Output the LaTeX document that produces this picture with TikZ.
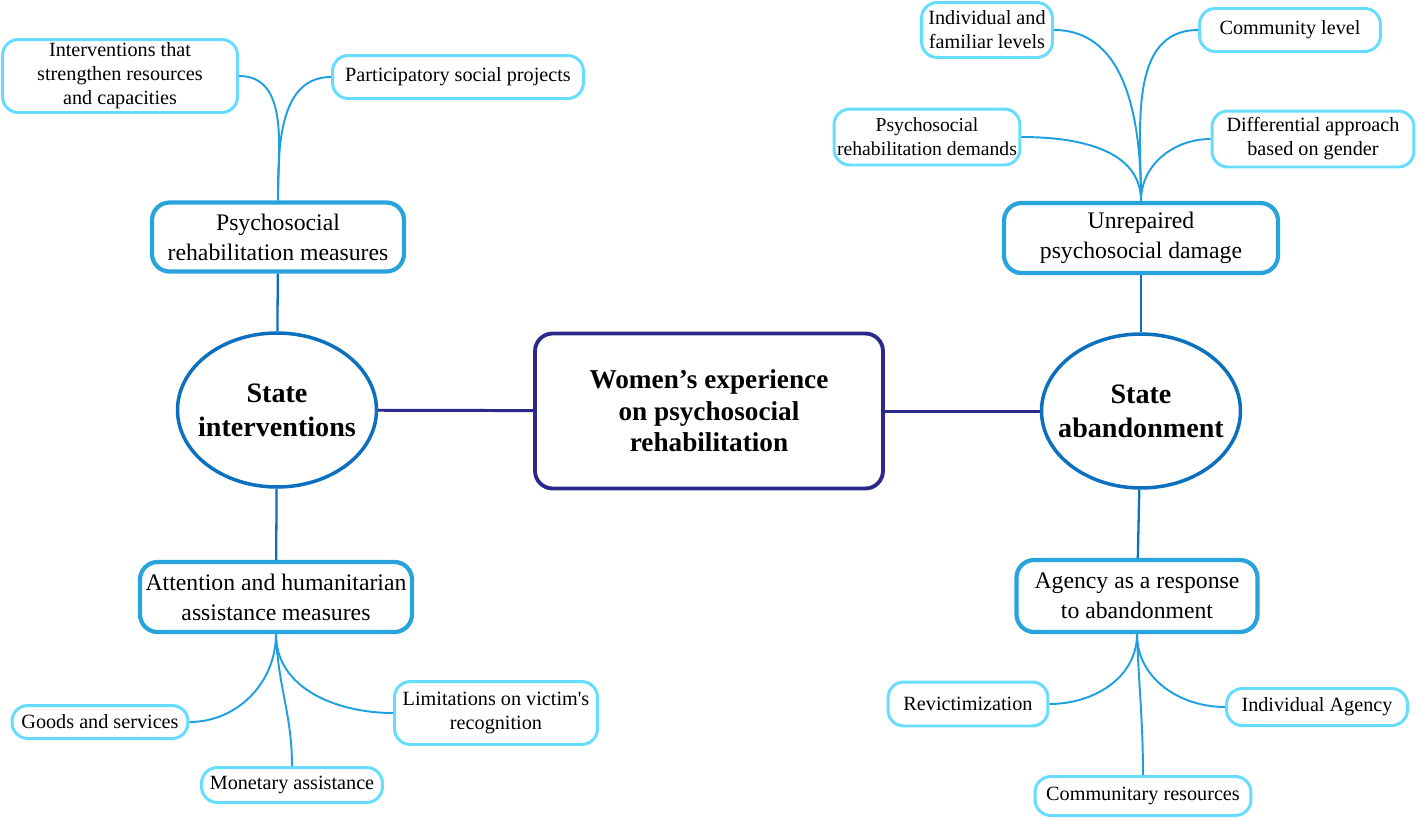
\documentclass[tikz,border=0pt]{standalone}
\usepackage{fontspec}
\setmainfont{Liberation Serif}
\usetikzlibrary{shapes.geometric}
\definecolor{navyline}{RGB}{43,42,140}
\definecolor{ellblue}{RGB}{12,112,190}
\definecolor{midblue}{RGB}{41,163,220}
\definecolor{leafblue}{RGB}{102,221,255}
\definecolor{twigblue}{RGB}{30,160,224}

\begin{document}
\begin{tikzpicture}[x=0.02cm,y=-0.02cm,
    leafbox/.style={draw=leafblue,line width=1.7pt,rounded corners=9pt,align=center,
        inner sep=0pt,font=\fontsize{11.5}{13.6}\selectfont},
    midbox/.style={draw=midblue,line width=2.4pt,rounded corners=10pt,align=center,
        inner sep=0pt,font=\fontsize{13.5}{17}\selectfont}]
            \useasboundingbox (0,0) rectangle (1418,819);
            % core of the map
            \node[draw=navyline,line width=2.2pt,rounded corners=10pt,align=center,
                minimum width=6.96cm,minimum height=3.1cm,
                font=\fontsize{15.5}{18}\selectfont\bfseries] (core) at (709,411)
                {Women’s experience\\on psychosocial\\rehabilitation};
            \begin{scope}[every node/.style={ellipse,draw=ellblue,line width=2pt,inner sep=0pt,
                    minimum width=3.98cm,minimum height=3.08cm},
                    every label/.style={shape=rectangle,draw=none,minimum width=0pt,minimum height=0pt,
                    align=center,font=\fontsize{16}{19.5}\selectfont\bfseries}]
                \node[label=center:{State\\interventions}] (interv) at (277,410) {};
                \node[label=center:{State\\abandonment}] (aband) at (1141,411) {};
            \end{scope}
            \begin{scope}[every node/.style={midbox}]
                \node[minimum width=5.04cm,minimum height=1.38cm] (measures) at (278,237) {Psychosocial\\rehabilitation measures};
                \node[minimum width=5.44cm,minimum height=1.4cm] (attention) at (276,597) {Attention and humanitarian\\assistance measures};
                \node[minimum width=5.48cm,minimum height=1.4cm] (damage) at (1141,238) {Unrepaired\\psychosocial damage};
                \node[minimum width=4.82cm,minimum height=1.44cm] (agency) at (1137,596) {Agency as a response\\to abandonment};
            \end{scope}
            \begin{scope}[every node/.style={leafbox}]
                \node[minimum width=4.7cm,minimum height=1.46cm] (strengthen) at (120,76) {Interventions that\\strengthen resources\\and capacities};
                \node[minimum width=5.02cm,minimum height=0.86cm] (projects) at (458,77) {Participatory social projects};
                \node[minimum width=2.62cm,minimum height=1.1cm] (familiar) at (987,30) {Individual and\\familiar levels};
                \node[minimum width=3.62cm,minimum height=0.86cm] (community) at (1290,30) {Community level};
                \node[minimum width=3.72cm,minimum height=1.12cm,font=\fontsize{11.2}{13.6}\selectfont] (demands) at (927,137) {Psychosocial\\rehabilitation demands};
                \node[minimum width=4.04cm,minimum height=1.12cm] (gender) at (1313,139) {Differential approach\\based on gender};
                \node[minimum width=3.52cm,minimum height=0.66cm] (goods) at (100,722) {Goods and services};
                \node[minimum width=3.62cm,minimum height=0.7cm] (monetary) at (292,785) {Monetary assistance};
                \node[minimum width=4.06cm,minimum height=1.26cm] (limits) at (496,713) {Limitations on victim\textquotesingle s\\recognition};
                \node[minimum width=3.2cm,minimum height=0.88cm] (revict) at (968,704) {Revictimization};
                \node[minimum width=3.62cm,minimum height=0.74cm] (indagency) at (1317,707) {Individual Agency};
                \node[minimum width=4.32cm,minimum height=0.78cm] (resources) at (1143,796) {Communitary resources};
            \end{scope}
            \begin{scope}[every edge/.style={draw=navyline,line width=1.7pt}]
                \path (core) edge (interv);
                \path (core) edge (aband);
            \end{scope}
            \begin{scope}[every edge/.style={draw=ellblue,line width=1.3pt}]
                \path (interv) edge (measures);
                \path (interv) edge (attention);
                \path (aband) edge (damage);
                \path (aband) edge (agency);
            \end{scope}
            \begin{scope}[every edge/.style={draw=twigblue,line width=1.1pt}]
                \path (measures.north) edge[out=90,in=0] (strengthen.east);
                \path (measures.north) edge[out=90,in=180] (projects.west);
                \path (damage.north) edge[out=90,in=0] (familiar.east);
                \path (damage.north) edge[out=90,in=180] (community.west);
                \path (damage.north) edge[out=90,in=0] (demands.east);
                \path (damage.north) edge[out=90,in=180] (gender.west);
                \path (attention.south) edge[out=-90,in=0] (goods.east);
                \path (attention.south) edge[out=-88,in=90] (monetary.north);
                \path (attention.south) edge[out=-90,in=180] (limits.west);
                \path (agency.south) edge[out=-90,in=0] (revict.east);
                \path (agency.south) edge[out=-90,in=180] (indagency.west);
                \path (agency.south) edge[out=-88,in=90] (resources.north);
            \end{scope}
        \end{tikzpicture}
\end{document}
